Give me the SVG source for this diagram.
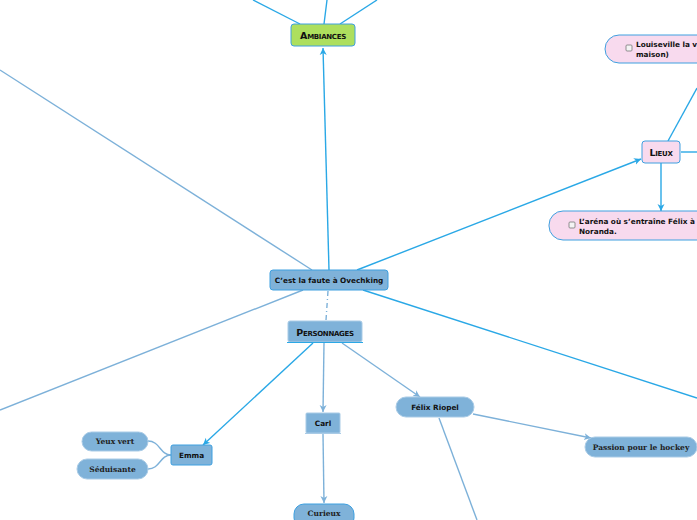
<svg xmlns="http://www.w3.org/2000/svg" width="697" height="520" viewBox="0 0 697 520">
<style>
.bl{stroke:#2aa8e6;stroke-width:1.4;fill:none}
.lb{stroke:#7db1d9;stroke-width:1.4;fill:none}
.t{font-family:"DejaVu Sans","Liberation Sans",sans-serif;font-weight:bold;font-size:7.3px;fill:#111}
.sc{font-family:"DejaVu Sans","Liberation Sans",sans-serif;font-weight:900;font-size:9.5px;font-variant:small-caps;fill:#111;letter-spacing:-0.3px}
.sf{font-family:"DejaVu Serif","Liberation Serif",serif;font-weight:bold;font-size:7.5px;fill:#222}
.blue{fill:#7fb2d9;stroke:#3ea0e0;stroke-width:1}
.bluen{fill:#7fb2d9;stroke:#a9cbe6;stroke-width:1}
.pink{fill:#f8daee;stroke:#3ea0e0;stroke-width:1}
.cb{fill:#f4f4f4;stroke:#777;stroke-width:0.8}
</style>
<defs>
<marker id="ab" markerWidth="8" markerHeight="8" refX="7" refY="4" orient="auto" markerUnits="userSpaceOnUse"><path d="M0,0.5 L7,4 L0,7.5 L2,4 Z" fill="#2aa8e6"/></marker>
<marker id="al" markerWidth="8" markerHeight="8" refX="7" refY="4" orient="auto" markerUnits="userSpaceOnUse"><path d="M0,0.5 L7,4 L0,7.5 L2,4 Z" fill="#7db1d9"/></marker>
</defs>
<g id="connectors">
<line class="bl" x1="253" y1="0" x2="300" y2="24"/>
<line class="bl" x1="327" y1="0" x2="324" y2="24"/>
<line class="bl" x1="377" y1="0" x2="340" y2="24"/>
<line class="bl" x1="329" y1="270" x2="323" y2="48" marker-end="url(#ab)"/>
<line class="bl" x1="357" y1="270" x2="641" y2="159" marker-end="url(#ab)"/>
<line class="bl" x1="668" y1="141" x2="697" y2="88"/>
<line class="bl" x1="681" y1="152" x2="697" y2="152"/>
<line class="bl" x1="661" y1="163" x2="661" y2="211" marker-end="url(#ab)"/>
<line class="lb" x1="0" y1="70" x2="312" y2="270"/>
<line class="lb" x1="303" y1="290" x2="0" y2="410"/>
<line class="bl" x1="363" y1="290" x2="697" y2="398"/>
<line class="lb" x1="328" y1="291" x2="326" y2="320" stroke-dasharray="5,3,1,3"/>
<line class="bl" x1="313" y1="343" x2="203" y2="445" marker-end="url(#ab)"/>
<line class="lb" x1="324" y1="343" x2="323" y2="412" marker-end="url(#al)"/>
<line class="lb" x1="342" y1="343" x2="420" y2="397" marker-end="url(#al)"/>
<path class="lb" d="M171,455 C160,455 160,441 148,441"/>
<path class="lb" d="M171,455 C160,455 160,469 148,469"/>
<line class="lb" x1="323" y1="434" x2="324" y2="503" marker-end="url(#al)"/>
<line class="lb" x1="473" y1="414" x2="591" y2="438" marker-end="url(#al)"/>
<line class="lb" x1="439" y1="418" x2="477" y2="520"/>
</g>
<g id="ambiances">
<rect x="291" y="24" width="64" height="22" rx="3" fill="#addf5e" stroke="#3ea0e0"/>
<text class="sc" x="323" y="38.5" text-anchor="middle">Ambiances</text>
</g>
<g id="louiseville">
<rect x="605" y="35" width="110" height="28" rx="14" class="pink"/>
<rect x="626" y="45" width="6" height="6" rx="1" class="cb"/>
<text class="t" x="636" y="47">Louiseville la ville</text>
<text class="t" x="636" y="57">maison)</text>
</g>
<g id="lieux">
<rect x="642" y="141" width="38" height="22" rx="3" class="pink"/>
<text class="sc" x="661" y="155.5" text-anchor="middle">Lieux</text>
</g>
<g id="arena">
<rect x="549" y="211" width="170" height="29" rx="14" class="pink"/>
<rect x="569" y="222" width="6" height="6" rx="1" class="cb"/>
<text class="t" x="579" y="224">L’aréna où s’entraîne Félix à Rouyn-</text>
<text class="t" x="579" y="234">Noranda.</text>
</g>
<g id="central">
<rect x="270" y="270" width="118" height="20" rx="3" class="blue"/>
<text class="t" x="329" y="283" text-anchor="middle">C’est la faute à Ovechking</text>
</g>
<g id="personnages">
<rect x="288" y="321" width="74" height="21" rx="2" class="bluen"/>
<line x1="287" y1="342.5" x2="363" y2="342.5" stroke="#2aa8e6" stroke-width="1"/>
<text class="sc" x="325" y="335.5" text-anchor="middle">Personnages</text>
</g>
<g id="emma">
<rect x="171" y="445" width="41" height="20" rx="2" class="blue"/>
<text class="t" x="191.5" y="458" text-anchor="middle">Emma</text>
</g>
<g id="yeux">
<rect x="82" y="432" width="66" height="19" rx="9.5" class="bluen"/>
<text class="sf" x="115" y="444" text-anchor="middle">Yeux vert</text>
</g>
<g id="seduisante">
<rect x="77" y="459" width="71" height="20" rx="10" class="bluen"/>
<text class="sf" x="112.5" y="472" text-anchor="middle">Séduisante</text>
</g>
<g id="carl">
<rect x="306" y="413" width="34" height="20" rx="1" class="bluen"/>
<line x1="305" y1="433.5" x2="341" y2="433.5" stroke="#a9cbe6" stroke-width="1"/>
<text class="t" x="323" y="426" text-anchor="middle">Carl</text>
</g>
<g id="curieux">
<rect x="294" y="504" width="60" height="24" rx="10" class="blue"/>
<text class="sf" x="324" y="516" text-anchor="middle">Curieux</text>
</g>
<g id="felix">
<rect x="396" y="397" width="78" height="20" rx="10" class="bluen"/>
<text class="t" x="435" y="410" text-anchor="middle">Félix Riopel</text>
</g>
<g id="passion">
<rect x="585" y="437" width="112" height="20" rx="10" class="bluen"/>
<text class="sf" x="641" y="450" text-anchor="middle">Passion pour le hockey</text>
</g>
</svg>
